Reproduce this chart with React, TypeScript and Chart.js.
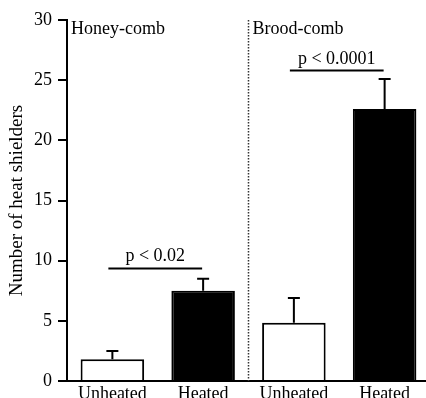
import React, { useEffect, useRef } from "react";
import { Chart, registerables } from "chart.js";
Chart.register(...registerables);

const categories = ["Unheated", "Heated", "Unheated", "Heated"];
const means = [1.8, 7.5, 4.85, 22.6];
const errTop = [2.5, 8.5, 6.9, 25.1];
const fillColors = ["#ffffff", "#000000", "#ffffff", "#000000"];
const groupLabels = ["Honey-comb", "Brood-comb"];
const sigPairs = [[0, 1], [2, 3]];
const sigLevel = [9.35, 25.8];
const sigText = ["p < 0.02", "p < 0.0001"];
const yTicks = [0, 5, 10, 15, 20, 25, 30];

const FONT = "'Liberation Serif', 'Times New Roman', serif";

const overlay = {
  id: "overlay",
  afterDatasetsDraw(chart: any) {
    const { ctx, scales, chartArea } = chart;
    const y = scales.y;
    const meta = chart.getDatasetMeta(0);
    ctx.save();
    // error bars
    ctx.strokeStyle = "#000";
    ctx.lineWidth = 2;
    means.forEach((m, i) => {
      const bx = meta.data[i].x;
      const y0 = y.getPixelForValue(m);
      const y1 = y.getPixelForValue(errTop[i]);
      ctx.beginPath();
      ctx.moveTo(bx, y0);
      ctx.lineTo(bx, y1);
      ctx.moveTo(bx - 6, y1);
      ctx.lineTo(bx + 6, y1);
      ctx.stroke();
    });
    // divider between groups
    const dx = (meta.data[1].x + meta.data[2].x) / 2;
    ctx.strokeStyle = "#333";
    ctx.lineWidth = 1.5;
    ctx.setLineDash([1.5, 1.5]);
    ctx.beginPath();
    ctx.moveTo(dx, chartArea.top);
    ctx.lineTo(dx, chartArea.bottom);
    ctx.stroke();
    ctx.setLineDash([]);
    // group labels
    ctx.fillStyle = "#000";
    ctx.font = `18px ${FONT}`;
    ctx.textAlign = "left";
    ctx.textBaseline = "alphabetic";
    groupLabels.forEach((g, i) => {
      const left = i === 0 ? chartArea.left : dx;
      ctx.fillText(g, left + 4, chartArea.top + 13.5);
    });
    // significance
    ctx.lineWidth = 2;
    ctx.strokeStyle = "#000";
    sigPairs.forEach((p, i) => {
      const x0 = meta.data[p[0]].x - 4;
      const x1 = meta.data[p[1]].x - 1;
      const yy = y.getPixelForValue(sigLevel[i]);
      ctx.beginPath();
      ctx.moveTo(x0, yy);
      ctx.lineTo(x1, yy);
      ctx.stroke();
      ctx.textAlign = "center";
      ctx.fillText(sigText[i], (x0 + x1) / 2, yy - 7);
    });
    ctx.restore();
  },
};

export default function App() {
  const ref = useRef<HTMLCanvasElement>(null);
  useEffect(() => {
    document.body.style.margin = "0";
    const chart = new Chart(ref.current!, {
      type: "bar",
      data: {
        labels: categories,
        datasets: [
          {
            data: means,
            backgroundColor: fillColors,
            borderColor: "#000",
            borderWidth: 2,
            borderSkipped: "bottom",
            barPercentage: 0.7,
            categoryPercentage: 1,
          },
        ],
      },
      options: {
        animation: false,
        responsive: false,
        layout: { padding: { top: 20, right: 0, left: 0, bottom: 0 } },
        plugins: { legend: { display: false }, tooltip: { enabled: false } },
        scales: {
          x: {
            grid: { display: false, drawTicks: false, tickLength: 0 },
            border: { display: true, color: "#000", width: 2 },
            ticks: { color: "#000", font: { family: FONT, size: 18 }, padding: 2, maxRotation: 0 },
            afterFit: (s: any) => { s.height = 17; },
          },
          y: {
            min: 0,
            max: 30,
            afterBuildTicks: (s: any) => { s.ticks = yTicks.map((v) => ({ value: v })); },
            grid: { display: true, drawOnChartArea: false, drawTicks: true, tickLength: 9, color: "#000", lineWidth: 2 },
            border: { display: true, color: "#000", width: 2 },
            ticks: { color: "#000", font: { family: FONT, size: 18 }, padding: 6 },
            title: { display: true, text: "Number of heat shielders", color: "#000", font: { family: FONT, size: 19 }, padding: { top: 6, bottom: 0 } },
            afterFit: (s: any) => { s.width = 67; },
          },
        },
      },
      plugins: [overlay],
    });
    return () => chart.destroy();
  }, []);
  return (
    <div style={{ width: 426, height: 398, overflow: "hidden" }}>
      <canvas ref={ref} width={430} height={398} style={{ display: "block" }} />
    </div>
  );
}
